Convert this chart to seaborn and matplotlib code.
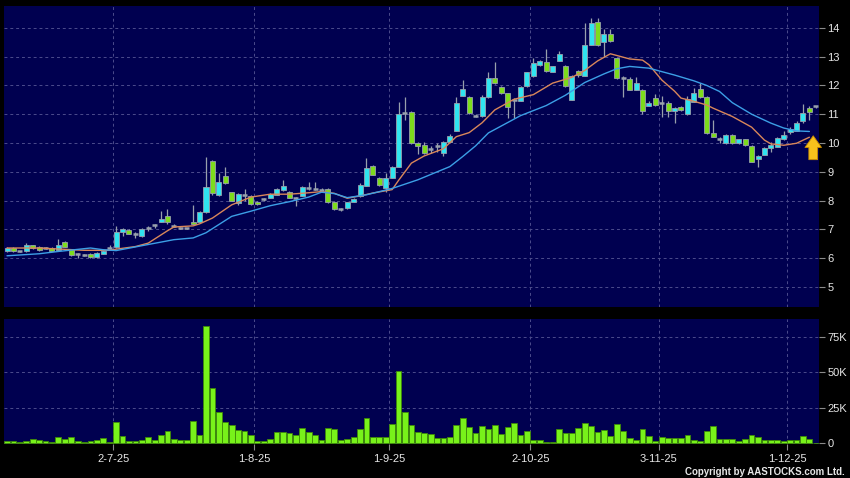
import numpy as np
import pandas as pd
import seaborn as sns
import matplotlib.pyplot as plt
from matplotlib.ticker import FuncFormatter

# daily OHLC (one entry per trading day)
opens = [6.23, 6.35, 6.23, 6.23, 6.44, 6.40, 6.35, 6.35, 6.29, 6.55,
         6.31, 6.15, 6.11, 6.14, 6.03, 6.15, 6.35, 6.38, 6.91, 6.97,
         6.85, 6.75, 7.05, 7.15, 7.27, 7.47, 7.13, 7.05, 7.03, 7.26,
         7.26, 7.60, 9.36, 8.20, 8.84, 8.28, 7.92, 8.20, 8.16, 7.95,
         8.05, 8.10, 8.20, 8.36, 8.30, 8.08, 8.16, 8.42, 8.40, 8.35,
         8.40, 7.96, 7.70, 7.73, 7.96, 8.14, 8.51, 9.20, 8.79, 8.44,
         8.79, 9.17, 11.05, 11.08, 10.00, 9.93, 9.78, 9.90, 9.65, 10.05,
         10.43, 11.64, 11.60, 10.95, 10.94, 11.60, 12.27, 11.96, 11.73, 11.50,
         11.47, 11.98, 12.33, 12.71, 12.82, 12.48, 12.86, 12.68, 11.50, 12.50,
         12.34, 13.41, 14.20, 13.50, 13.78, 12.95, 12.27, 12.22, 11.85, 11.85,
         11.30, 11.56, 11.40, 11.40, 11.10, 11.26, 11.00, 11.44, 11.87, 11.60,
         10.34, 10.13, 10.00, 10.28, 9.99, 10.13, 9.90, 9.45, 9.59, 9.82,
         9.87, 10.13, 10.38, 10.43, 10.78, 11.22, 11.27]
highs = [6.38, 6.38, 6.26, 6.54, 6.47, 6.43, 6.38, 6.38, 6.66, 6.58,
         6.33, 6.18, 6.14, 6.16, 6.21, 6.30, 6.45, 7.13, 7.05, 7.00,
         6.90, 7.05, 7.10, 7.20, 7.63, 7.70, 7.18, 7.08, 7.06, 7.85,
         7.62, 9.50, 9.40, 8.96, 9.15, 8.30, 8.25, 8.40, 8.20, 7.98,
         8.08, 8.25, 8.42, 8.72, 8.33, 8.12, 8.50, 8.65, 8.65, 8.45,
         8.45, 7.98, 7.75, 7.96, 8.08, 8.60, 9.48, 9.25, 8.82, 8.95,
         9.20, 11.43, 11.60, 11.10, 10.05, 10.02, 9.90, 10.00, 10.08, 10.30,
         11.60, 12.20, 11.62, 11.00, 11.65, 12.47, 12.80, 11.98, 11.75, 11.55,
         11.98, 12.47, 12.95, 12.90, 13.25, 12.68, 13.20, 12.72, 12.36, 12.55,
         14.17, 14.36, 14.35, 13.95, 13.95, 12.97, 12.32, 12.30, 12.30, 11.87,
         11.45, 11.70, 11.62, 11.45, 11.25, 11.30, 11.62, 11.90, 12.08, 11.62,
         10.80, 10.20, 10.30, 10.30, 10.15, 10.15, 9.92, 9.58, 9.85, 10.05,
         10.20, 10.40, 10.55, 10.75, 11.35, 11.28, 11.30]
lows = [6.20, 6.20, 6.20, 6.20, 6.33, 6.26, 6.31, 6.24, 6.27, 6.38,
        6.08, 5.99, 6.08, 6.01, 6.01, 6.13, 6.30, 6.36, 6.75, 6.83,
        6.70, 6.73, 6.95, 7.05, 7.25, 7.20, 7.08, 7.00, 7.00, 7.18,
        7.24, 7.58, 8.20, 8.15, 8.58, 7.98, 7.85, 8.00, 7.85, 7.85,
        8.00, 8.08, 8.18, 8.34, 8.08, 7.80, 8.14, 8.38, 8.35, 8.30,
        7.93, 7.68, 7.65, 7.71, 7.94, 8.12, 8.49, 8.88, 8.52, 8.30,
        8.77, 9.15, 10.80, 9.98, 9.60, 9.62, 9.65, 9.70, 9.55, 10.03,
        10.41, 11.62, 11.02, 10.90, 10.92, 11.58, 12.05, 11.71, 10.87, 10.87,
        11.45, 11.96, 12.30, 12.69, 12.48, 12.46, 12.84, 11.96, 11.48, 12.30,
        12.32, 13.39, 13.38, 13.00, 13.50, 12.23, 11.60, 11.83, 11.83, 11.00,
        11.28, 11.30, 10.90, 10.90, 10.70, 11.10, 10.98, 11.42, 11.58, 10.32,
        10.20, 10.00, 9.98, 9.98, 9.97, 9.90, 9.33, 9.15, 9.57, 9.70,
        9.85, 10.11, 10.30, 10.41, 10.70, 10.80, 11.22]
closes = [6.35, 6.23, 6.23, 6.44, 6.35, 6.29, 6.35, 6.26, 6.44, 6.40,
          6.10, 6.15, 6.11, 6.03, 6.19, 6.26, 6.35, 6.90, 7.02, 6.85,
          6.85, 7.02, 7.05, 7.15, 7.37, 7.27, 7.13, 7.05, 7.03, 7.20,
          7.60, 8.48, 8.26, 8.63, 8.60, 8.00, 8.23, 8.20, 7.88, 7.88,
          8.05, 8.22, 8.40, 8.50, 8.10, 8.08, 8.47, 8.42, 8.40, 8.35,
          7.96, 7.71, 7.70, 7.94, 8.04, 8.55, 9.14, 8.90, 8.55, 8.79,
          9.17, 11.00, 11.05, 10.00, 9.90, 9.65, 9.78, 9.90, 10.05, 10.25,
          11.39, 11.87, 11.04, 10.95, 11.60, 12.27, 12.08, 11.73, 11.25, 11.50,
          11.96, 12.45, 12.78, 12.86, 12.50, 12.66, 13.10, 11.98, 12.34, 12.37,
          13.39, 14.16, 13.41, 13.78, 13.55, 12.25, 12.27, 11.85, 12.10, 11.12,
          11.40, 11.33, 11.40, 11.12, 11.20, 11.13, 11.53, 11.73, 11.60, 10.34,
          10.22, 10.13, 10.28, 10.00, 10.13, 9.93, 9.35, 9.55, 9.83, 9.93,
          10.18, 10.29, 10.47, 10.71, 11.05, 11.08, 11.27]
# volume in thousands of shares
volumes = [1.6, 1.6, 0.7, 1.9, 3.0, 2.3, 1.6, 1.2, 4.4, 3.0,
           4.4, 1.4, 0.7, 1.4, 2.1, 3.5, 1.2, 15.2, 5.4, 1.9,
           1.9, 2.1, 4.7, 2.3, 6.1, 8.6, 3.3, 2.1, 2.1, 15.7,
           5.8, 82.7, 39.0, 22.2, 15.2, 12.8, 9.3, 8.9, 5.8, 1.9,
           1.6, 2.8, 8.2, 8.2, 7.5, 5.6, 11.0, 7.7, 5.6, 2.1,
           11.0, 9.8, 2.1, 3.0, 4.2, 10.0, 17.5, 4.7, 4.7, 4.7,
           13.5, 50.9, 21.7, 12.6, 7.7, 7.0, 6.5, 3.5, 3.5, 4.7,
           12.8, 17.5, 11.4, 7.5, 11.9, 9.8, 13.1, 6.8, 11.7, 14.2,
           5.8, 8.6, 2.1, 2.1, 0.7, 0.7, 10.0, 7.2, 7.2, 11.0,
           14.2, 12.1, 7.9, 9.1, 5.4, 13.8, 8.9, 3.7, 2.6, 10.0,
           5.1, 1.6, 4.2, 3.5, 3.5, 3.5, 5.6, 2.1, 1.6, 8.9,
           11.9, 3.0, 3.0, 3.0, 1.9, 3.3, 5.6, 4.7, 2.3, 2.3,
           2.3, 1.9, 2.3, 2.6, 5.1, 3.0, 0.5]

# moving averages at sample days
ma_short_day = [0, 5, 12, 16, 17, 20, 22, 25, 26, 29, 30, 32, 35, 38, 41, 44, 47, 49,
                51, 53, 55, 57, 60, 61, 63, 65, 68, 70, 72, 74, 76, 79, 82, 85, 88,
                90, 92, 94, 97, 99, 100, 102, 104, 105, 107, 109, 110, 113, 116,
                118, 119, 121, 123, 125]
ma_short = [6.35, 6.35, 6.27, 6.27, 6.31, 6.40, 6.52, 6.95, 7.08, 7.12, 7.19, 7.39,
            7.85, 8.12, 8.22, 8.22, 8.27, 8.31, 8.25, 8.08, 8.16, 8.26, 8.38, 8.70,
            9.30, 9.55, 9.80, 10.22, 10.36, 10.70, 11.15, 11.52, 11.68, 12.08,
            12.28, 12.52, 12.85, 13.10, 12.92, 12.88, 12.72, 12.19, 11.80, 11.56,
            11.45, 11.32, 11.21, 10.92, 10.55, 10.10, 9.97, 9.92, 9.99, 10.20]
ma_long_day = [0, 5, 8, 13, 15, 17, 21, 26, 29, 31, 35, 38, 41, 44, 47, 49, 51, 53,
               56, 60, 64, 69, 71, 73, 75, 80, 84, 87, 90, 93, 95, 97, 100, 104,
               107, 109, 111, 113, 116, 119, 121, 123, 125]
ma_long = [6.08, 6.15, 6.23, 6.35, 6.29, 6.26, 6.43, 6.64, 6.70, 6.88, 7.45, 7.63,
           7.82, 7.96, 8.12, 8.29, 8.24, 8.10, 8.20, 8.42, 8.72, 9.18, 9.53, 9.90,
           10.35, 10.95, 11.30, 11.66, 12.10, 12.40, 12.58, 12.66, 12.60, 12.36,
           12.16, 12.00, 11.79, 11.40, 11.00, 10.69, 10.52, 10.42, 10.40]

# first trading day of each month
tick_day = [17, 39, 60, 82, 102, 122]
tick_labels = ['2-7-25', '1-8-25', '1-9-25', '2-10-25', '3-11-25', '1-12-25']

price_ticks = [5, 6, 7, 8, 9, 10, 11, 12, 13, 14]
vol_ticks = [0, 25, 50, 75]

# colours
panel_bg = '#000050'
grid_col = '#4c4c8c'
cyan = '#30e4f0'
green = '#7ddc1c'
edge = '#98a0ac'
vol_green = '#78f21a'

sns.set_style('dark', rc={'axes.facecolor': panel_bg, 'figure.facecolor': 'black',
                          'axes.edgecolor': panel_bg, 'grid.color': grid_col})
plt.rcParams['font.family'] = ['Liberation Sans', 'DejaVu Sans']

df = pd.DataFrame({'open': opens, 'high': highs, 'low': lows, 'close': closes,
                   'volume': volumes})
df['day'] = np.arange(len(df))

fig = plt.figure(figsize=(8.5, 4.78), dpi=100, facecolor='black')
ax1 = fig.add_axes([4 / 850, 1 - 307 / 478, 815 / 850, 301 / 478])
ax2 = fig.add_axes([4 / 850, 1 - 444 / 478, 815 / 850, 125 / 478])

# candlesticks
up = df[df['close'] > df['open']]
down = df[df['close'] < df['open']]
flat = df[df['close'] == df['open']]
ax1.vlines(df['day'], df['low'], df['high'], color=edge, lw=0.9, zorder=2)
ax1.bar(up['day'], up['close'] - up['open'], bottom=up['open'], width=0.78,
        color=cyan, edgecolor=edge, linewidth=0.6, zorder=3)
ax1.bar(down['day'], down['open'] - down['close'], bottom=down['close'], width=0.78,
        color=green, edgecolor=edge, linewidth=0.6, zorder=3)
ax1.hlines(flat['close'], flat['day'] - 0.39, flat['day'] + 0.39, color=edge,
           lw=1.8, zorder=3)

# moving averages
sns.lineplot(x=ma_short_day, y=ma_short, color='#d9875a', lw=1.0, ax=ax1, zorder=4)
sns.lineplot(x=ma_long_day, y=ma_long, color='#3c9fe6', lw=1.0, ax=ax1, zorder=4)

# yellow arrow at the last bar
ax1.annotate('', xy=(125.6, 10.25), xytext=(125.6, 9.42),
             arrowprops=dict(arrowstyle='simple,head_width=0.85,head_length=0.6,tail_width=0.45',
                             fc='#f8c21c', ec='#c98a00', lw=0.6, shrinkA=0, shrinkB=0,
                             mutation_scale=14),
             zorder=5)

# volume
sns.barplot(x=df['day'], y=df['volume'], native_scale=True, color=vol_green,
            saturation=1, edgecolor='#3f8a08', linewidth=0.6, width=0.9, ax=ax2)

for ax in (ax1, ax2):
    ax.set_xlim(-0.47, 126.5)
    ax.set_xticks([d - 0.45 for d in tick_day])
    ax.yaxis.tick_right()
    ax.grid(True, color=grid_col, linestyle=(0, (3, 3)), lw=0.7)
    ax.set_axisbelow(True)
    ax.set_xlabel('')
    ax.set_ylabel('')
    for s in ax.spines.values():
        s.set_visible(False)
    ax.tick_params(axis='y', colors='#8a8a8a', labelcolor='#e6e6e6', length=4,
                   width=0.8, pad=2, labelsize=8, right=True, left=False)

ax1.set_ylim(4.3, 14.76)
ax1.set_yticks(price_ticks)
ax1.tick_params(axis='x', length=0, labelbottom=False)

ax2.set_ylim(-0.5, 87.3)
ax2.set_yticks(vol_ticks)
ax2.yaxis.set_major_formatter(FuncFormatter(lambda v, p: '0' if v == 0 else '%dK' % v))
ax2.set_xticklabels(tick_labels)
ax2.tick_params(axis='x', colors='#8a8a8a', labelcolor='#e6e6e6', length=4,
                width=0.8, pad=3, labelsize=8, bottom=True)

fig.text(845 / 850, 1 - 472 / 478, 'Copyright by AASTOCKS.com Ltd.', color='#e6e6e6',
         fontsize=7, fontweight='bold', ha='right', va='center')

plt.savefig('out.png', dpi=100, facecolor='black')
